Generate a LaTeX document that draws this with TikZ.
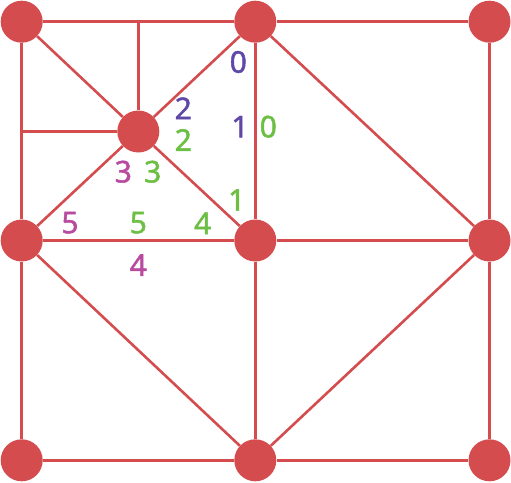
\documentclass[tikz,border=0pt]{standalone}
\usepackage{fontspec}
\setmainfont{Noto Sans}
\newfontfamily\digitfont[FakeBold=1.5]{Noto Sans}
\usetikzlibrary{positioning}
\definecolor{MeshRed}{rgb}{0.835, 0.298, 0.306}
\definecolor{DeepPurple}{rgb}{0.373, 0.282, 0.659}
\definecolor{PinkPurple}{rgb}{0.722, 0.290, 0.627}
\definecolor{LeafGreen}{rgb}{0.427, 0.749, 0.267}

\begin{document}
\begin{tikzpicture}[
    x=1pt, y=-1pt,
    vert/.style={circle, fill=MeshRed, minimum size=42pt, inner sep=0},
    edge/.style={draw=MeshRed, line width=2.6pt},
    lab/.style={font=\digitfont\fontsize{30}{36}\selectfont, inner sep=0},
]
\useasboundingbox (0,0) rectangle (511,482);

% ===== vertices =====
\node[vert] (v1) at (21.7,21.7) {};
\node[vert] (v2) at (255.3,21.7) {};
\node[vert] (v3) at (489.5,21.7) {};
\node[vert] (v4) at (21.7,240.5) {};
\node[vert] (v5) at (255.3,240.5) {};
\node[vert] (v6) at (489.5,240.5) {};
\node[vert] (v7) at (21.7,460.3) {};
\node[vert] (v8) at (255.3,460.3) {};
\node[vert] (v9) at (489.5,460.3) {};
\node[vert] (vc) at (138.3,131.5) {};
\coordinate (ct) at (138.3,21.7);
\coordinate (cl) at (21.7,131.5);

% ===== grid and triangles =====
\draw[edge] (v1) -- (v2) -- (v3) -- (v6) -- (v9) -- (v8) -- (v7) -- (v4) -- (v1);
\draw[edge] (v4) -- (v5) -- (v6);
\draw[edge] (v2) -- (v5) -- (v8);
\draw[edge] (v2) -- (v6) -- (v8) -- (v4);
\draw[edge] (v1) -- (vc) -- (v2);
\draw[edge] (v4) -- (vc) -- (v5);
\draw[edge] (ct) -- (vc) -- (cl);

% ===== labels =====
\node[lab, text=DeepPurple] (a0) at (238.3,62) {0};
\node[lab, text=DeepPurple] (a2) at (183.3,108.3) {2};
\node[lab, text=DeepPurple] (a1) at (240,126.7) {1};
\node[lab, text=LeafGreen] (b2) at (183.3,140) {2};
\node[lab, text=LeafGreen] (b0) at (268.3,126.7) {0};
\node[lab, text=PinkPurple] (c3) at (123.3,171.7) {3};
\node[lab, text=LeafGreen] (b3) at (152.7,171.7) {3};
\node[lab, text=LeafGreen] (b1) at (236.7,200) {1};
\node[lab, text=PinkPurple] (c5) at (70,222.7) {5};
\node[lab, text=LeafGreen] (b5) at (138.3,222.7) {5};
\node[lab, text=LeafGreen] (b4) at (202.7,223.3) {4};
\node[lab, text=PinkPurple] (c4) at (138.3,265) {4};

\end{tikzpicture}
\end{document}
